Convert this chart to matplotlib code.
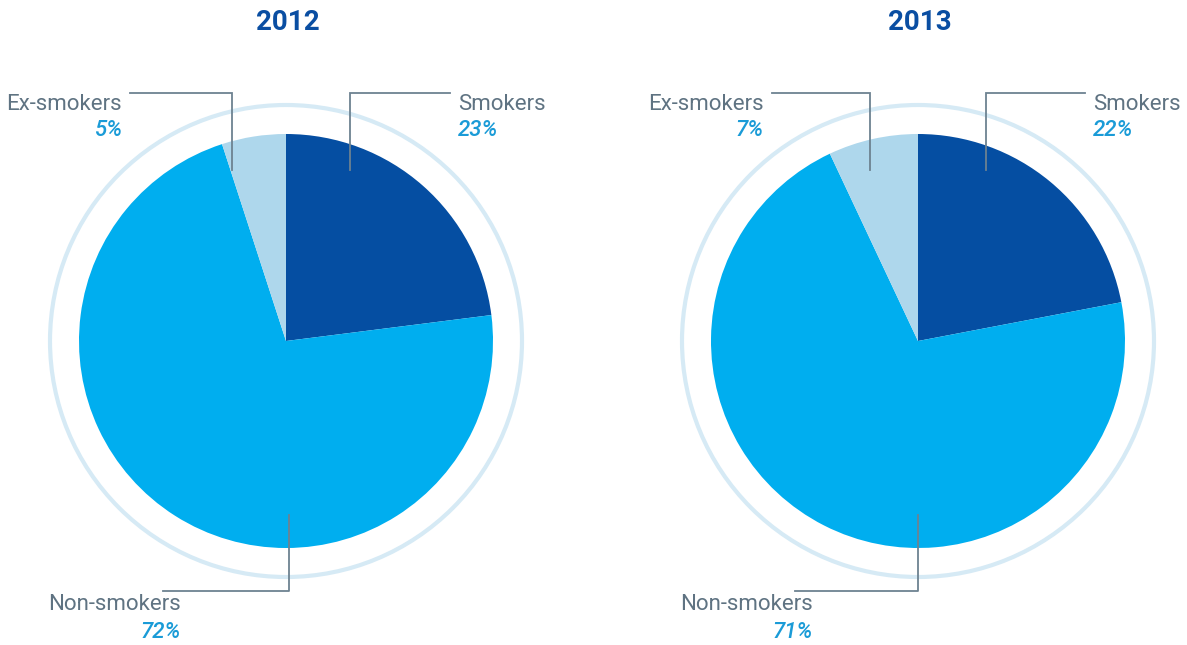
import matplotlib
matplotlib.use('Agg')
import matplotlib.pyplot as plt
from matplotlib import font_manager
from matplotlib.patches import Circle

years = ['2012', '2013']
categories = ['Smokers', 'Non-smokers', 'Ex-smokers']
shares_2012 = [23, 72, 5]
shares_2013 = [22, 71, 7]

colors = ['#054ea2', '#00aeef', '#aed7ec']
label_color = '#5f7382'
pct_color = '#1a9bd7'
line_color = '#6d8291'

names = {f.name for f in font_manager.fontManager.ttflist}
font = 'Liberation Sans Narrow' if 'Liberation Sans Narrow' in names else 'Roboto'
plt.rcParams['font.family'] = [font, 'DejaVu Sans']

W, H = 1187, 645
fig = plt.figure(figsize=(W / 100, H / 100), dpi=100)
ax = fig.add_axes([0, 0, 1, 1])
ax.set_xlim(0, W)
ax.set_ylim(0, H)
ax.set_aspect('equal')
ax.axis('off')

LBL = dict(fontsize=16, color=label_color, va='center')
PCT = dict(fontsize=16, color=pct_color, va='center', style='italic',
           fontweight='medium')


def Y(y):
    # image-style y (top down) to axes y
    return H - y


def callout(xv, y0, xe, name, pct, side, ytop=93):
    ax.plot([xv, xv, xe], [Y(y0), Y(ytop), Y(ytop)], color=line_color, lw=1.3,
            solid_joinstyle='miter')
    if side == 'right':
        tx, ha = xe + 8, 'left'
    else:
        tx, ha = xe - 8, 'right'
    ax.text(tx, Y(ytop + 11), name, ha=ha, **LBL)
    ax.text(tx, Y(ytop + 38), pct, ha=ha, **PCT)


for i, (year, shares) in enumerate(zip(years, [shares_2012, shares_2013])):
    cx = 286 + i * 632
    cy = Y(341)
    ax.add_patch(Circle((cx, cy), 236, fill=False, ec='#d6eaf5', lw=3))
    ax.pie(shares, colors=colors, startangle=90, counterclock=False,
           center=(cx, cy), radius=207, wedgeprops=dict(linewidth=0),
           frame=True)
    ax.text(cx + 2, Y(22), year, ha='center', va='center', fontsize=20,
            fontweight='bold', color='#0a4ea2')

    # leader lines and labels
    s, n, e = shares
    if i == 0:
        callout(cx + 64, 170, cx + 164, categories[0], f'{s}%', 'right')
        callout(cx - 54, 170, cx - 156, categories[2], f'{e}%', 'left')
        xv = cx + 3
    else:
        callout(cx + 68, 170, cx + 167, categories[0], f'{s}%', 'right')
        callout(cx - 48, 170, cx - 146, categories[2], f'{e}%', 'left')
        xv = cx
    ax.plot([xv, xv, cx - 123], [Y(515), Y(591), Y(591)],
            color=line_color, lw=1.3)
    ax.text(cx - 105, Y(605), categories[1], ha='right', **LBL)
    ax.text(cx - 105, Y(632), f'{n}%', ha='right', **PCT)

ax.set_xlim(0, W)
ax.set_ylim(0, H)
ax.axis('off')
fig.savefig('out.png', dpi=100)
